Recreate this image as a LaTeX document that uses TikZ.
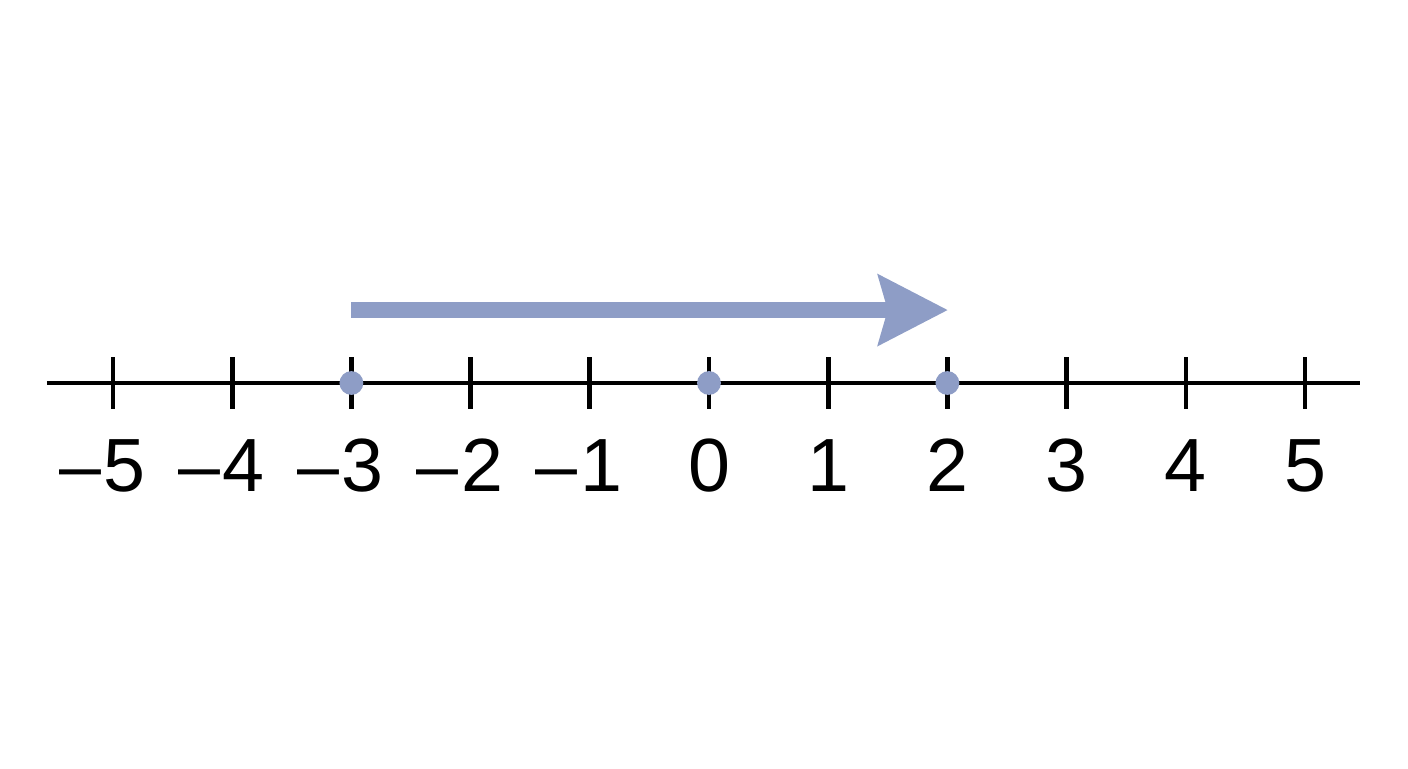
\documentclass[tikz,border=0pt]{standalone}
\usepackage{fontspec}
\setmainfont{Liberation Sans}
\usetikzlibrary{arrows.meta}
\definecolor{dotblue}{RGB}{142,157,198}
\tikzset{
    numlabel/.style={inner sep=0pt, font=\fontsize{18}{22}\selectfont},
    dotmark/.style={circle, fill=dotblue, inner sep=0pt, minimum size=0.2cm},
}

\begin{document}
\begin{tikzpicture}
\useasboundingbox (-5.948,-3.230) rectangle (5.864,3.213);
\draw[line width=1.1pt] (-5.554,0)--(5.461,0);
\foreach \x in {-5,...,5}
    \draw[line width=1.1pt] (\x,0.218)--(\x,-0.218);
\node[numlabel] (l0) at (0,-0.692) {0};
\foreach \x in {1,...,5}
    \node[numlabel] (l\x) at (\x,-0.692) {\x};
\foreach \x in {1,...,5}
    \node[numlabel] (lm\x) at (-\x-0.09,-0.692) {--\kern0.02cm\x};
\node[dotmark] (pa) at (-3,0) {};
\node[dotmark] (pb) at (0,0) {};
\node[dotmark] (pc) at (2,0) {};
\coordinate (from) at (-3,0.612);
\coordinate (to) at (2.005,0.612);
\draw[dotblue, line width=0.138cm, -{Stealth[length=0.58cm,width=0.58cm,inset=0.075cm]}] (from)--(to);
\end{tikzpicture}
\end{document}
